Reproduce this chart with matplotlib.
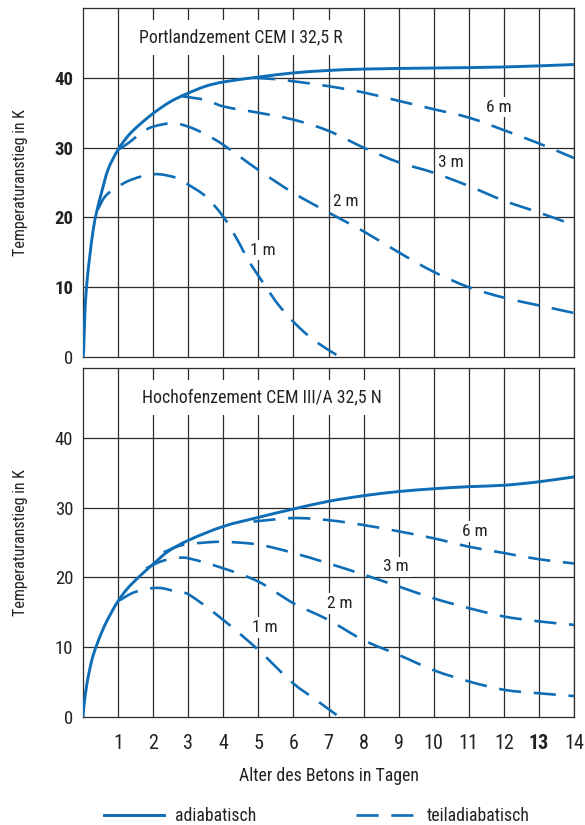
import matplotlib
matplotlib.use("Agg")
import matplotlib.pyplot as plt
from matplotlib import font_manager as fm
from matplotlib.lines import Line2D
from matplotlib.path import Path
from matplotlib.patches import PathPatch

# Pick a narrow sans face if one is available
_names = {(f.name, f.stretch) for f in fm.fontManager.ttflist}
FAMILY, STRETCH = 'Liberation Sans', 'normal'
for cand in ['Liberation Sans Narrow', 'Roboto Condensed', 'Open Sans Condensed',
             'Noto Sans Condensed', 'DejaVu Sans Condensed']:
    if any(n == cand for n, s in _names):
        FAMILY, STRETCH = cand, 'normal'
        break
else:
    for n, s in _names:
        if n == 'DejaVu Sans' and s in ('condensed', 'semi-condensed'):
            FAMILY, STRETCH = 'DejaVu Sans', s
            break
plt.rcParams['font.family'] = [FAMILY, 'DejaVu Sans']
plt.rcParams['font.stretch'] = STRETCH

BLUE = '#0f6db5'
GRID = '#2b2b2b'
TXT = '#222222'

# ---- Portlandzement CEM I 32,5 R -------------------------------------------
pz_adiab_days = [0, 0.02, 0.05, 0.1, 0.19, 0.29, 0.38, 0.52, 0.71, 1.0, 1.29, 1.57,
                 2.0, 2.5, 3.0, 3.5, 4.0, 5.0, 6.0, 7.0, 8.0, 10.0, 12.0, 14.0]
pz_adiab_temp = [0, 1.0, 5.8, 10.0, 14.3, 18.2, 20.6, 23.4, 26.8, 29.7, 31.7, 33.1,
                 34.9, 36.6, 37.8, 38.8, 39.4, 40.1, 40.7, 41.05, 41.25, 41.4, 41.55, 41.9]

pz_1m_days = [0.42, 0.6, 0.86, 1.38, 2.04, 2.71, 3.0, 3.5, 4.0, 4.4, 4.71, 5.14, 5.6, 6.19, 6.7, 7.23]
pz_1m_temp = [21.1, 22.8, 24.0, 25.4, 26.2, 25.6, 24.7, 23.0, 20.1, 16.8, 13.9, 10.6, 7.3, 4.1, 2.0, 0.3]

pz_2m_days = [1.0, 1.28, 1.71, 2.0, 2.57, 3.0, 3.5, 4.0, 5.0, 6.0, 7.0, 8.0, 9.0, 10.0, 11.0, 12.0, 13.0, 14.0]
pz_2m_temp = [29.7, 30.6, 32.3, 33.0, 33.5, 33.0, 31.9, 30.4, 26.8, 23.5, 20.7, 18.0, 15.0, 12.2, 10.0, 8.5, 7.4, 6.3]

pz_3m_days = [2.77, 3.5, 4.0, 5.0, 6.0, 7.0, 8.0, 9.0, 10.0, 11.0, 12.0, 13.0, 14.0]
pz_3m_temp = [37.4, 36.8, 35.9, 35.0, 34.0, 32.4, 30.0, 27.9, 26.4, 24.5, 22.4, 20.7, 18.9]

pz_6m_days = [4.85, 5.5, 6.0, 7.0, 8.0, 9.0, 10.0, 11.0, 12.0, 13.0, 14.0]
pz_6m_temp = [40.0, 39.8, 39.5, 38.8, 37.9, 36.7, 35.5, 34.3, 32.5, 30.6, 28.5]

# ---- Hochofenzement CEM III/A 32,5 N ---------------------------------------
hz_adiab_days = [0, 0.02, 0.11, 0.25, 0.39, 0.59, 0.78, 1.0, 1.25, 1.58, 2.0, 2.42, 3.0, 4.0, 5.0,
                 6.0, 7.0, 8.0, 9.0, 10.0, 11.0, 12.0, 13.0, 14.0]
hz_adiab_temp = [0, 1.3, 4.7, 8.1, 10.3, 12.8, 14.7, 16.6, 18.3, 20.0, 21.9, 23.7, 25.3, 27.3, 28.6,
                 29.8, 30.9, 31.7, 32.3, 32.7, 33.0, 33.2, 33.7, 34.4]

hz_1m_days = [1.0, 1.48, 2.14, 2.71, 3.0, 4.0, 5.0, 6.0, 6.6, 7.23]
hz_1m_temp = [16.6, 17.9, 18.5, 17.9, 17.6, 13.9, 9.6, 4.8, 2.6, 0.3]

hz_2m_days = [1.8, 2.23, 2.71, 3.0, 4.0, 5.0, 6.0, 7.0, 8.0, 9.0, 10.0, 11.0, 12.0, 13.0, 14.0]
hz_2m_temp = [21.3, 22.3, 22.8, 22.75, 21.3, 19.4, 16.3, 13.9, 11.0, 8.9, 6.7, 5.1, 3.9, 3.4, 3.0]

hz_3m_days = [2.3, 2.8, 3.5, 4.0, 5.0, 6.0, 7.0, 8.0, 9.0, 10.0, 11.0, 12.0, 13.0, 14.0]
hz_3m_temp = [23.6, 24.6, 25.0, 25.1, 24.7, 23.5, 22.0, 20.4, 18.7, 17.0, 15.6, 14.4, 13.7, 13.2]

hz_6m_days = [4.86, 6.0, 7.0, 8.0, 9.0, 10.0, 11.0, 12.0, 13.0, 14.0]
hz_6m_temp = [28.0, 28.5, 28.2, 27.5, 26.6, 25.6, 24.4, 23.5, 22.6, 22.0]

day_ticks = list(range(1, 15))
temp_ticks = [0, 10, 20, 30, 40]

panels = [
    dict(title='Portlandzement CEM I 32,5 R', title_x=4.5,
         adiab=(pz_adiab_days, pz_adiab_temp),
         partial=[(pz_1m_days, pz_1m_temp), (pz_2m_days, pz_2m_temp),
                  (pz_3m_days, pz_3m_temp), (pz_6m_days, pz_6m_temp)],
         labels=[('1 m', 5.14, 15.3), ('2 m', 7.5, 22.3), ('3 m', 10.5, 27.8), ('6 m', 11.86, 35.8)],
         bold_y=True),
    dict(title='Hochofenzement CEM III/A 32,5 N', title_x=5.1,
         adiab=(hz_adiab_days, hz_adiab_temp),
         partial=[(hz_1m_days, hz_1m_temp), (hz_2m_days, hz_2m_temp),
                  (hz_3m_days, hz_3m_temp), (hz_6m_days, hz_6m_temp)],
         labels=[('1 m', 5.19, 12.8), ('2 m', 7.33, 16.3), ('3 m', 8.93, 21.5), ('6 m', 11.18, 26.6)],
         bold_y=False),
]


def smooth_path(xs, ys):
    """Cubic Bezier path through the given points (Catmull-Rom tangents)."""
    verts = [(xs[0], ys[0])]
    codes = [Path.MOVETO]
    n = len(xs)
    for k in range(n - 1):
        x0, y0 = (xs[k - 1], ys[k - 1]) if k > 0 else (xs[k], ys[k])
        x1, y1 = xs[k], ys[k]
        x2, y2 = xs[k + 1], ys[k + 1]
        x3, y3 = (xs[k + 2], ys[k + 2]) if k + 2 < n else (x2, y2)
        h = x2 - x1
        s1 = (y2 - y0) / (x2 - x0) if x2 != x0 else 0.0
        s2 = (y3 - y1) / (x3 - x1) if x3 != x1 else 0.0
        verts += [(x1 + h / 3, y1 + s1 * h / 3), (x2 - h / 3, y2 - s2 * h / 3), (x2, y2)]
        codes += [Path.CURVE4] * 3
    return Path(verts, codes)


fig = plt.figure(figsize=(5.85, 8.25), dpi=100)
ax_boxes = [[83 / 585, (825 - 357) / 825, 491 / 585, 349 / 825],
            [83 / 585, (825 - 717) / 825, 491 / 585, 349 / 825]]

DASH = (8.4, 4.8)
LW = 1.9

for i, (p, box) in enumerate(zip(panels, ax_boxes)):
    ax = fig.add_axes(box)
    ax.set_xlim(0, 14)
    ax.set_ylim(0, 50)
    for d in day_ticks:
        ax.axvline(d, color=GRID, lw=0.9, zorder=1)
    for t in [10, 20, 30, 40]:
        ax.axhline(t, color=GRID, lw=0.9, zorder=1)
    for s in ax.spines.values():
        s.set_color(GRID)
        s.set_linewidth(0.9)

    ax.add_patch(PathPatch(smooth_path(*p['adiab']), fill=False, edgecolor=BLUE,
                           lw=LW + 0.2, capstyle='butt', zorder=3))
    for xs, ys in p['partial']:
        ax.add_patch(PathPatch(smooth_path(xs, ys), fill=False, edgecolor=BLUE,
                               lw=LW, linestyle=(0, DASH), capstyle='butt', zorder=3))

    for txt, x, y in p['labels']:
        ax.text(x, y, txt, fontsize=12.5, color=TXT, ha='center', va='center', zorder=4,
                bbox=dict(facecolor='white', edgecolor='none', pad=2))

    ax.text(p['title_x'], 45.8, p['title'], fontsize=12.8, color=TXT, ha='center', va='center',
            zorder=4, bbox=dict(facecolor='white', edgecolor='none', pad=6))

    ax.set_yticks(temp_ticks)
    ax.set_yticklabels([str(t) for t in temp_ticks], fontsize=13.5, color=TXT)
    if p['bold_y']:
        for lab in ax.get_yticklabels()[1:]:
            lab.set_fontweight('bold')
    ax.tick_params(axis='both', length=0, pad=7)
    ax.set_ylabel('Temperaturanstieg in K', fontsize=11.5, color=TXT, labelpad=19)

    ax.set_xticks(day_ticks)
    if i == 1:
        ax.set_xticklabels([str(d) for d in day_ticks], fontsize=14.5, color=TXT)
        ax.get_xticklabels()[12].set_fontweight('bold')
        ax.tick_params(axis='x', pad=12)
        ax.set_xlabel('Alter des Betons in Tagen', fontsize=12.8, color=TXT, labelpad=10)
    else:
        ax.set_xticklabels([])

handles = [Line2D([], [], color=BLUE, lw=LW + 0.2),
           Line2D([], [], color=BLUE, lw=LW, linestyle=(0, DASH))]
fig.legend(handles, ['adiabatisch', 'teiladiabatisch'], loc='center',
           bbox_to_anchor=(317 / 585, 1 - 816 / 825), ncol=2, frameon=False,
           fontsize=12.8, handlelength=3.4, handletextpad=0.6, columnspacing=5.6,
           labelcolor=TXT)

fig.savefig('out.png', dpi=100)
